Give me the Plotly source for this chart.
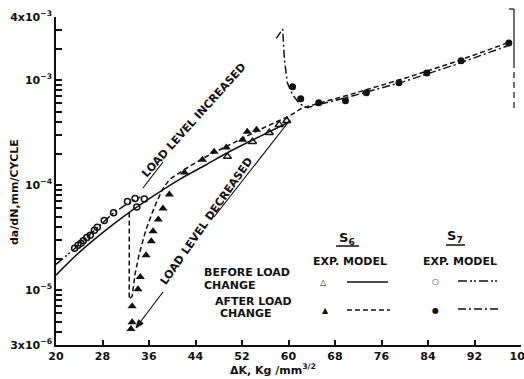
import plotly.graph_objects as go
import numpy as np

# ---------------- data ----------------
x_ticks = [20, 28, 36, 44, 52, 60, 68, 76, 84, 92, 100]
y_label_vals = [3e-6, 1e-5, 1e-4, 1e-3, 4e-3]
y_label_text = ["3x10<sup>−6</sup>", "10<sup>−5</sup>", "10<sup>−4</sup>", "10<sup>−3</sup>", "4x10<sup>−3</sup>"]

# S6 before load change: experiment (open triangles), model (solid)
s6_before_exp_dk = [49.5, 53.8, 56.7, 58.4, 59.7]
s6_before_exp_rate = [1.87e-4, 2.59e-4, 3.16e-4, 3.77e-4, 4.11e-4]
s6_before_mod_dk = [20, 24.0, 28.3, 32.6, 36.9, 41.2, 45.5, 49.8, 55.0, 60.2]
s6_before_mod_rate = [1.39e-5, 2.29e-5, 3.63e-5, 5.50e-5, 7.98e-5, 1.13e-4, 1.53e-4, 2.08e-4, 2.90e-4, 4.02e-4]

# S6 after load change: experiment (filled triangles), model (dashed)
s6_after_exp_dk = [32.9, 33.1, 33.1, 34.1, 34.5, 35.5, 36.4, 36.7, 37.6, 38.4, 39.5, 42.1, 45.2, 47.2, 49.3, 52.1, 52.9, 54.5]
s6_after_exp_rate = [4.26e-6, 4.95e-6, 7.03e-6, 1.02e-5, 1.33e-5, 2.15e-5, 2.92e-5, 3.63e-5, 4.72e-5, 6.0e-5,
                     8.15e-5, 1.32e-4, 1.75e-4, 2.08e-4, 2.28e-4, 2.71e-4, 3.23e-4, 3.37e-4]
s6_after_mod_dk = [32.6, 32.6, 33.1, 33.6, 34.3, 35.5, 36.9, 38.3, 39.5, 42.1, 45.5, 49.8, 55.0, 60.2,
                   62.4, 70.5, 79.7, 88.6, 98.1]
s6_after_mod_rate = [5.50e-5, 8.2e-6, 8.75e-6, 1.42e-5, 2.19e-5, 3.79e-5, 6.14e-5, 9.08e-5, 1.13e-4, 1.41e-4,
                     1.83e-4, 2.43e-4, 3.37e-4, 4.58e-4, 5.46e-4, 7.27e-4, 1.03e-3, 1.49e-3, 2.31e-3]

# S7 before load change: experiment (open circles), model (dash-dot-dot)
s7_before_exp_dk = [23.2, 23.8, 24.3, 24.7, 25.3, 25.9, 26.6, 27.1, 28.3, 29.9, 32.3, 33.6, 33.9, 35.2]
s7_before_exp_rate = [2.50e-5, 2.67e-5, 2.79e-5, 2.95e-5, 3.18e-5, 3.33e-5, 3.71e-5, 3.98e-5, 4.61e-5,
                      5.45e-5, 7.0e-5, 7.46e-5, 6.2e-5, 7.4e-5]
s7_before_mod_dk = [20, 23.1, 26.6, 29.8, 32.6, 34.5]
s7_before_mod_rate = [1.76e-5, 2.45e-5, 3.71e-5, 5.38e-5, 6.84e-5, 7.7e-5]

# S7 after load change: experiment (filled circles), model (dash-dot)
s7_after_exp_dk = [60.7, 62.1, 65.2, 69.8, 73.4, 79.0, 83.8, 89.7, 97.9]
s7_after_exp_rate = [8.65e-4, 6.65e-4, 6.10e-4, 6.37e-4, 7.59e-4, 9.44e-4, 1.17e-3, 1.53e-3, 2.26e-3]
s7_after_mod_dk = [57.9, 59.0, 59.3, 59.8, 60.7, 61.9, 63.3, 64.8, 67.1, 70.5, 79.7, 88.6, 98.1]
s7_after_mod_rate = [2.5e-3, 3.07e-3, 1.56e-3, 9.44e-4, 7.27e-4, 5.96e-4, 5.46e-4, 5.83e-4, 6.22e-4,
                     6.95e-4, 9.64e-4, 1.40e-3, 2.17e-3]

# ---------------- figure ----------------
W, H = 524, 379
ML, MR, MT, MB = 56, 3, 17, 34
PW, PH = W - ML - MR, H - MT - MB
FONT = "DejaVu Sans"
BLK = "#111111"


def px(x):
    return (x - ML) / PW


def py(y):
    return (H - MB - y) / PH


fig = go.Figure()
line_w = 1.5
fig.add_trace(go.Scatter(x=s6_before_mod_dk, y=s6_before_mod_rate, mode="lines", line_shape="spline",
                         line=dict(color=BLK, width=line_w)))
fig.add_trace(go.Scatter(x=s6_after_mod_dk, y=s6_after_mod_rate, mode="lines",
                         line=dict(color=BLK, width=line_w, dash="5px,3px")))
fig.add_trace(go.Scatter(x=s7_before_mod_dk, y=s7_before_mod_rate, mode="lines",
                         line=dict(color=BLK, width=line_w, dash="9px,3px,2px,2px,2px,3px")))
fig.add_trace(go.Scatter(x=s7_after_mod_dk, y=s7_after_mod_rate, mode="lines",
                         line=dict(color=BLK, width=line_w, dash="8px,3px,2px,3px")))
fig.add_trace(go.Scatter(x=s6_before_exp_dk, y=s6_before_exp_rate, mode="markers",
                         marker=dict(symbol="triangle-up-open", size=7, color=BLK, line=dict(width=1.5, color=BLK))))
fig.add_trace(go.Scatter(x=s6_after_exp_dk, y=s6_after_exp_rate, mode="markers",
                         marker=dict(symbol="triangle-up", size=8, color=BLK)))
fig.add_trace(go.Scatter(x=s7_before_exp_dk, y=s7_before_exp_rate, mode="markers",
                         marker=dict(symbol="circle-open", size=6, color=BLK, line=dict(width=1.5, color=BLK))))
fig.add_trace(go.Scatter(x=s7_after_exp_dk, y=s7_after_exp_rate, mode="markers",
                         marker=dict(symbol="circle", size=7, color=BLK)))

# y tick values: labelled decades plus minor ticks
y_tickvals, y_ticktext = [], []
for e in range(-6, -2):
    for m in range(1, 10):
        v = m * 10.0 ** e
        if 3e-6 - 1e-12 <= v <= 4e-3 + 1e-12:
            y_tickvals.append(v)
            lab = ""
            for lv, lt in zip(y_label_vals, y_label_text):
                if abs(lv - v) / lv < 1e-6:
                    lab = lt
            y_ticktext.append(lab)

fig.update_layout(
    width=W, height=H, margin=dict(l=ML, r=MR, t=MT, b=MB, pad=0),
    paper_bgcolor="white", plot_bgcolor="white", showlegend=False,
    font=dict(family=FONT, color=BLK, size=11, weight="bold"),
    xaxis=dict(range=[20, 100], tickvals=x_ticks, ticktext=[str(v) for v in x_ticks],
               ticks="inside", ticklen=5, tickwidth=1.5, tickcolor=BLK,
               showline=True, linecolor=BLK, linewidth=1.5, showgrid=False, zeroline=False,
               automargin=False, ticklabeloverflow="allow",
               tickfont=dict(family=FONT, size=11, color=BLK, weight="bold")),
    yaxis=dict(type="log", range=[np.log10(3e-6), np.log10(4e-3)], tickvals=y_tickvals, ticktext=y_ticktext,
               ticks="inside", ticklen=6, tickwidth=1.5, tickcolor=BLK,
               showline=True, linecolor=BLK, linewidth=1.5, showgrid=False, zeroline=False,
               automargin=False, ticklabeloverflow="allow",
               tickfont=dict(family=FONT, size=11, color=BLK, weight="bold")),
)

ann = []
shapes = []


def text(x, y, t, size=11, angle=0, xanchor="center"):
    ann.append(dict(x=px(x), y=py(y), xref="paper", yref="paper", text=t, showarrow=False,
                    textangle=angle, xanchor=xanchor, yanchor="middle",
                    font=dict(family=FONT, size=size, color=BLK, weight="bold")))


def seg(x0, y0, x1, y1, dash="solid", w=1.2):
    shapes.append(dict(type="line", xref="paper", yref="paper", x0=px(x0), y0=py(y0), x1=px(x1), y1=py(y1),
                       line=dict(color=BLK, width=w, dash=dash)))


# axis titles
text(15, 192, "da/dN,mm/CYCLE", size=11, angle=-90)
text(273, 369, "ΔK, Kg /mm<sup>3/2</sup>", size=11)

# rotated annotations and leader lines
text(194, 121, "LOAD LEVEL INCREASED", size=11, angle=-48)
seg(143, 188, 163, 162)
text(206, 221, "LOAD LEVEL DECREASED", size=11, angle=-55)
seg(290, 120, 214, 217)
seg(163, 292, 138, 325)
hx, hy = 136, 328
ux, uy = -0.6, 0.8
bx, by = hx - 8 * ux, hy - 8 * uy
p1 = (bx + 3 * 0.8, by + 3 * 0.6)
p2 = (bx - 3 * 0.8, by - 3 * 0.6)
shapes.append(dict(type="path", xref="paper", yref="paper",
                   path=f"M {px(hx)} {py(hy)} L {px(p1[0])} {py(p1[1])} L {px(p2[0])} {py(p2[1])} Z",
                   fillcolor=BLK, line=dict(color=BLK, width=1)))

# legend block
text(347, 238, "S<sub>6</sub>", size=13)
seg(336, 246, 359, 246, w=1.5)
text(455, 237, "S<sub>7</sub>", size=13)
seg(446, 245, 465, 245, w=1.5)
text(350, 261, "EXP. MODEL", size=11)
text(460, 261, "EXP. MODEL", size=11)
text(202, 272, "BEFORE LOAD", size=11, xanchor="left")
text(202, 285, "CHANGE", size=11, xanchor="left")
text(213, 301, "AFTER LOAD", size=11, xanchor="left")
text(218, 313, "CHANGE", size=11, xanchor="left")
text(323, 282, "△", size=8)
text(325, 310, "▲", size=8)
text(435, 281, "○", size=8)
text(435, 310, "●", size=8)
seg(347, 282, 388, 282, w=1.5)
seg(347, 310, 390, 310, dash="5px,3px", w=1.5)
seg(458, 281, 498, 281, dash="9px,3px,2px,2px,2px,3px", w=1.5)
seg(458, 309, 498, 309, dash="8px,3px,2px,3px", w=1.5)

# frame bracket at right edge (from the scan)
seg(509, 9, 514, 9)
seg(514, 9, 514, 62)
seg(514, 62, 514, 112, dash="6px,4px")

fig.update_layout(annotations=ann, shapes=shapes)
fig.write_html("out.html")
